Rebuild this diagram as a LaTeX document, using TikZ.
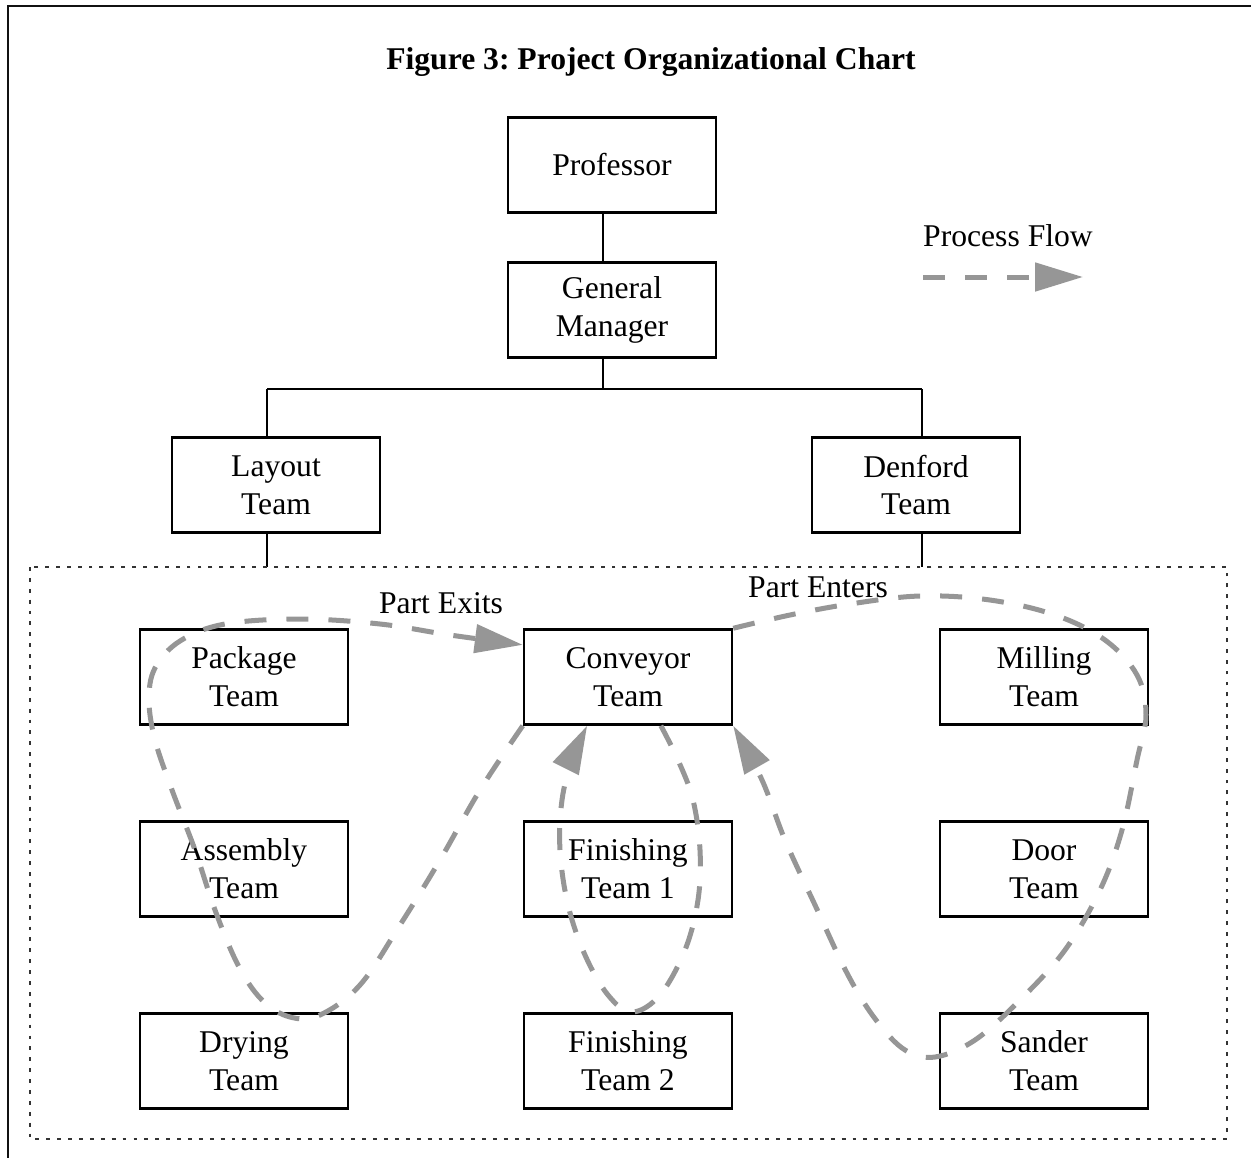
\documentclass[tikz,border=0pt]{standalone}
\usepackage{fontspec}
\setmainfont{Liberation Serif}
\usepackage{xcolor}
\usetikzlibrary{arrows.meta,positioning,calc}
\definecolor{flowgray}{HTML}{969696}
\definecolor{framedark}{HTML}{111111}
\frenchspacing

\begin{document}
\begin{tikzpicture}[
  team/.style={
    rectangle, draw=black, line width=1.4pt,
    minimum width=4.16cm, minimum height=1.9cm,
    align=center, font=\fontsize{18}{21.6}\selectfont, inner sep=2pt
  },
  orgline/.style={line width=1.4pt, black},
  zone/.style={line width=0.6pt, black!80, dash pattern=on 2.2pt off 4pt},
  flow/.style={
    flowgray, line width=2.85pt, dash pattern=on 12.5pt off 11.4pt,
    -{Triangle[length=0.96cm, width=0.56cm]}
  },
  lbl/.style={font=\fontsize{18}{21.6}\selectfont, inner sep=0pt}
]

\useasboundingbox (0,0) rectangle (25.02,-23.14);

%=== OUTER FRAME ===
\draw[framedark, line width=1.7pt] (0.16,-0.12) rectangle (25.6,-23.6);

%=== TITLE ===
\node[lbl, font=\fontsize{18}{21.6}\selectfont\bfseries] (title) at (13.02,-1.24)
  {Figure 3: Project Organizational Chart};

%=== MANAGEMENT ===
\node[team] (prof)    at (12.24,-3.30) {Professor};
\node[team] (gm)      at (12.24,-6.20) {General\\Manager};
\node[team] (layout)  at ( 5.52,-9.70) {Layout\\Team};
\node[team] (denford) at (18.32,-9.70) {Denford\\Team};

%=== TEAMS IN THE CELL ===
\node[team] (package)  at ( 4.88,-13.54) {Package\\Team};
\node[team] (conv)     at (12.56,-13.54) {Conveyor\\Team};
\node[team] (milling)  at (20.88,-13.54) {Milling\\Team};
\node[team] (assembly) at ( 4.88,-17.38) {Assembly\\Team};
\node[team] (fin1)     at (12.56,-17.38) {Finishing\\Team 1};
\node[team] (door)     at (20.88,-17.38) {Door\\Team};
\node[team] (drying)   at ( 4.88,-21.22) {Drying\\Team};
\node[team] (fin2)     at (12.56,-21.22) {Finishing\\Team 2};
\node[team] (sander)   at (20.88,-21.22) {Sander\\Team};

%=== ORG LINES ===
\coordinate (spine) at (12.06,-7.78);
\coordinate (barL)  at ( 5.34,-7.78);
\coordinate (barR)  at (18.44,-7.78);
\coordinate (subL)  at ( 5.34,-11.34);
\coordinate (subR)  at (18.44,-11.34);
\draw[orgline] (prof.south -| spine) -- (gm.north -| spine);
\draw[orgline] (gm.south -| spine) -- (spine);
\draw[orgline] (barL) -- (barR);
\draw[orgline] (barL) -- (layout.north -| barL);
\draw[orgline] (barR) -- (denford.north -| barR);
\draw[orgline] (layout.south -| subL) -- (subL);
\draw[orgline] (denford.south -| subR) -- (subR);

%=== DOTTED CELL BOUNDARY ===
\coordinate (zoneNW) at (0.60,-11.34);
\coordinate (zoneSE) at (24.54,-22.78);
\draw[zone] (zoneNW) rectangle (zoneSE);

%=== LEGEND ===
\node[lbl] (legend) at (20.16,-4.72) {Process Flow};
\coordinate (legA) at (18.46,-5.54);
\coordinate (legB) at (21.66,-5.54);
\draw[flow] (legA) -- (legB);

%=== PROCESS FLOW LOOPS ===
% right loop: conveyor -> milling -> door -> sander -> conveyor
\draw[flow] plot[smooth, tension=0.6] coordinates {
  (conv.north east) (15.8,-12.3) (17.0,-12.08) (18.4,-11.92) (19.8,-12.0)
  (21.1,-12.3) (22.1,-12.8) (22.74,-13.5) (22.92,-14.3) (22.74,-15.2)
  (22.44,-16.6) (22.0,-17.8) (21.3,-19.0) (20.4,-20.0) (19.5,-20.8)
  (18.7,-21.14) (18.1,-21.0) (17.52,-20.4) (16.96,-19.5) (16.3,-18.1)
  (15.7,-16.8) (15.24,-15.6) (conv.south east)};
% middle loop: conveyor -> finishing 1 -> finishing 2 -> conveyor
\draw[flow] plot[smooth, tension=0.6] coordinates {
  (conv.-56) (13.56,-15.2) (13.86,-16.0) (14.0,-17.0) (13.96,-18.0)
  (13.7,-19.0) (13.2,-19.9) (12.64,-20.24) (12.16,-19.9) (11.7,-19.1)
  (11.36,-18.1) (11.2,-17.0) (11.24,-16.0) (11.44,-15.2) (conv.230)};
% left loop: conveyor -> drying -> assembly -> package -> conveyor
\draw[flow] plot[smooth, tension=0.6] coordinates {
  (conv.south west) (9.6,-15.8) (8.8,-17.2) (8.0,-18.5) (7.2,-19.7)
  (6.4,-20.3) (5.8,-20.34) (5.24,-20.0) (4.76,-19.3) (4.3,-18.2)
  (3.9,-17.0) (3.44,-15.8) (3.1,-14.8) (2.98,-14.0) (3.1,-13.36)
  (3.6,-12.82) (4.5,-12.48) (6.0,-12.38) (7.6,-12.48) (9.0,-12.7)
  (conv.163)};

\node[lbl] (exits)  at ( 8.82,-12.06) {Part Exits};
\node[lbl] (enters) at (16.36,-11.74) {Part Enters};

\end{tikzpicture}
\end{document}
